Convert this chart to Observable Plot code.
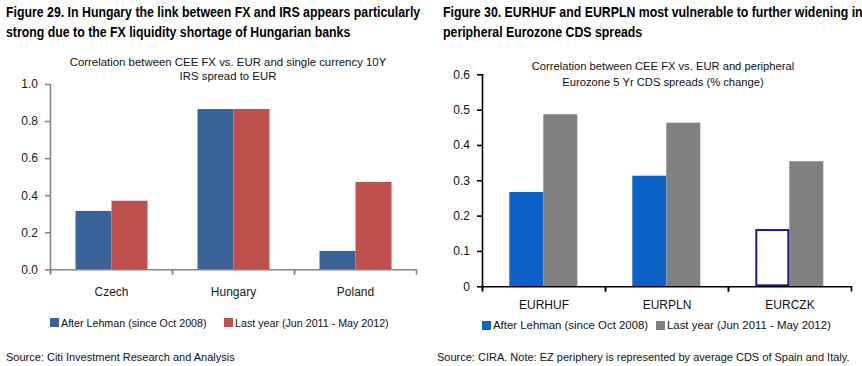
<!DOCTYPE html>
<html>
<head>
<meta charset="utf-8">
<script src="https://cdn.jsdelivr.net/npm/d3@7"></script>
<script src="https://cdn.jsdelivr.net/npm/@observablehq/plot@0.6"></script>
<style>
  html, body { margin: 0; padding: 0; background: #fff; }
  #root { position: relative; width: 862px; height: 366px; background: #fff; overflow: hidden;
          font-family: "Liberation Sans", Arial, sans-serif; color: #111; }
  .abs { position: absolute; white-space: nowrap; }
  .title { font-weight: bold; font-size: 14px; line-height: 20px; transform-origin: 0 0; color: #000; }
  .sub { text-align: center; font-size: 11.4px; line-height: 14.4px; color: #111; }
  .legend { display: flex; align-items: center; }
  .sw { display: inline-block; width: 9px; height: 9px; margin-right: 2px; }
  .src { font-size: 11px; color: #111; }
</style>
</head>
<body>
<div id="root"></div>
<script>
// ---------- Data: Figure 29 ----------
const leftCategories = ["Czech", "Hungary", "Poland"];
const leftSeries = ["After Lehman (since Oct 2008)", "Last year (Jun 2011 - May 2012)"];
const leftAfterLehman = [0.315, 0.865, 0.099];
const leftLastYear = [0.370, 0.865, 0.471];
const leftYTicks = [0, 0.2, 0.4, 0.6, 0.8, 1.0];

// ---------- Data: Figure 30 ----------
const rightCategories = ["EURHUF", "EURPLN", "EURCZK"];
const rightSeries = ["After Lehman (since Oct 2008)", "Last year (Jun 2011 - May 2012)"];
const rightAfterLehman = [0.267, 0.313, 0.162];
const rightLastYear = [0.487, 0.463, 0.354];
const rightYTicks = [0, 0.1, 0.2, 0.3, 0.4, 0.5, 0.6];

// ---------- Texts ----------
const leftTitle = ["Figure 29. In Hungary the link between FX and IRS appears particularly",
                   "strong due to the FX liquidity shortage of Hungarian banks"];
const rightTitle = ["Figure 30. EURHUF and EURPLN most vulnerable to further widening in",
                    "peripheral Eurozone CDS spreads"];
const leftSubtitle = ["Correlation between CEE FX vs. EUR and single currency 10Y", "IRS spread to EUR"];
const rightSubtitle = ["Correlation between CEE FX vs. EUR and peripheral", "Eurozone 5 Yr CDS spreads (% change)"];
const leftSource = "Source: Citi Investment Research and Analysis";
const rightSource = "Source: CIRA. Note: EZ periphery is represented by average CDS of Spain and Italy.";

const root = document.getElementById("root");

function addDiv(cls, style, html) {
  const d = document.createElement("div");
  d.className = "abs " + cls;
  Object.assign(d.style, style);
  d.innerHTML = html;
  root.appendChild(d);
  return d;
}

function chart(cfg) {
  const data = cfg.categories.flatMap((c, i) =>
    cfg.series.map((s, j) => ({category: c, series: s, value: cfg.values[j][i]})));
  const isHollow = d => d.category === cfg.hollowCategory && d.series === cfg.series[0];
  const plotH = cfg.height - cfg.marginTop - cfg.marginBottom;
  return Plot.plot({
    width: cfg.width,
    height: cfg.height,
    marginTop: cfg.marginTop,
    marginRight: cfg.marginRight,
    marginBottom: cfg.marginBottom,
    marginLeft: cfg.marginLeft,
    style: {fontFamily: '"Liberation Sans", Arial, sans-serif', fontSize: "12px", background: "transparent", overflow: "visible"},
    fx: {domain: cfg.categories, padding: 0, label: null},
    x: {domain: cfg.series, paddingInner: 0, paddingOuter: cfg.paddingOuter, axis: null},
    y: {domain: cfg.yDomain, label: null},
    color: {domain: cfg.series, range: cfg.colors},
    marks: [
      Plot.barY(data.filter(d => !isHollow(d)), {fx: "category", x: "series", y: "value", fill: "series"}),
      Plot.barY(data.filter(isHollow), {fx: "category", x: "series", y: "value", fill: "white",
        stroke: cfg.hollowStroke, strokeWidth: 2, inset: 1}),
      Plot.ruleY([0], {stroke: cfg.axisColor, strokeWidth: 1.6}),
      Plot.frame({anchor: "left", facetAnchor: "left", stroke: cfg.axisColor, strokeWidth: 1.6, insetBottom: -3}),
      Plot.frame({anchor: "left", stroke: cfg.axisColor, strokeWidth: 1.6, insetTop: plotH, insetBottom: -4}),
      Plot.frame({anchor: "right", stroke: cfg.axisColor, strokeWidth: 1.6, insetTop: plotH, insetBottom: -4}),
      Plot.axisY({ticks: cfg.yTicks, tickFormat: cfg.tickFormat, tickSize: 5, tickPadding: 7.5,
        stroke: cfg.axisColor, strokeWidth: 1.6, fill: cfg.textColor, label: null}),
      Plot.axisFx({anchor: "bottom", tickSize: 0, tickPadding: cfg.fxPad, fill: cfg.textColor, label: null})
    ]
  });
}

// ---------- Left panel ----------
const leftSvg = chart({
  categories: leftCategories, series: leftSeries, values: [leftAfterLehman, leftLastYear],
  colors: ["#3A6398", "#C0504D"], yDomain: [0, 1], yTicks: leftYTicks,
  tickFormat: d3.format(".1f"), axisColor: "#858585", textColor: "#1a1a1a",
  width: 431, height: 265, marginTop: 34, marginBottom: 45.7, marginLeft: 48.5, marginRight: 14,
  paddingOuter: 0.66, fxPad: 17.2, hollowCategory: null, hollowStroke: "none"
});
leftSvg.style.position = "absolute"; leftSvg.style.left = "0px"; leftSvg.style.top = "50px";
root.appendChild(leftSvg);

// ---------- Right panel ----------
const rightSvg = chart({
  categories: rightCategories, series: rightSeries, values: [rightAfterLehman, rightLastYear],
  colors: ["#0B63C8", "#808080"], yDomain: [0, 0.6], yTicks: rightYTicks,
  tickFormat: d => d === 0 ? "0" : d3.format(".1f")(d), axisColor: "#000", textColor: "#111",
  width: 431, height: 265, marginTop: 24.3, marginBottom: 28.7, marginLeft: 49.7, marginRight: 10,
  paddingOuter: 0.76, fxPad: 13.2, hollowCategory: "EURCZK", hollowStroke: "#1C1C8E"
});
rightSvg.style.position = "absolute"; rightSvg.style.left = "431px"; rightSvg.style.top = "50px";
root.appendChild(rightSvg);

// ---------- Titles ----------
addDiv("title", {left: "6px", top: "2px", transform: "scaleX(0.88)"}, leftTitle.join("<br>"));
addDiv("title", {left: "443px", top: "2px", transform: "scaleX(0.88)"}, rightTitle.join("<br>"));

// ---------- Subtitles ----------
addDiv("sub", {left: "28px", top: "55px", width: "400px"}, leftSubtitle.join("<br>"));
addDiv("sub", {left: "463px", top: "58px", width: "400px", fontSize: "11.2px", lineHeight: "16px"}, rightSubtitle.join("<br>"));

// ---------- Legends ----------
function legendItem(x, yCenter, color, label, fontSize) {
  const d = addDiv("legend", {left: x + "px", top: (yCenter - 8) + "px", height: "16px", fontSize: fontSize}, "");
  const sw = document.createElement("span"); sw.className = "sw"; sw.style.background = color;
  const t = document.createElement("span"); t.textContent = label;
  d.appendChild(sw); d.appendChild(t);
}
legendItem(50, 322.5, "#3A6398", leftSeries[0], "10.7px");
legendItem(224, 322.5, "#C0504D", leftSeries[1], "10.7px");
legendItem(482, 325, "#0B63C8", rightSeries[0], "11.4px");
legendItem(656, 325, "#808080", rightSeries[1], "11.4px");

// ---------- Sources ----------
addDiv("src", {left: "6px", top: "350px", lineHeight: "14px"}, leftSource);
addDiv("src", {left: "437px", top: "350px", lineHeight: "14px"}, rightSource);
</script>
</body>
</html>
